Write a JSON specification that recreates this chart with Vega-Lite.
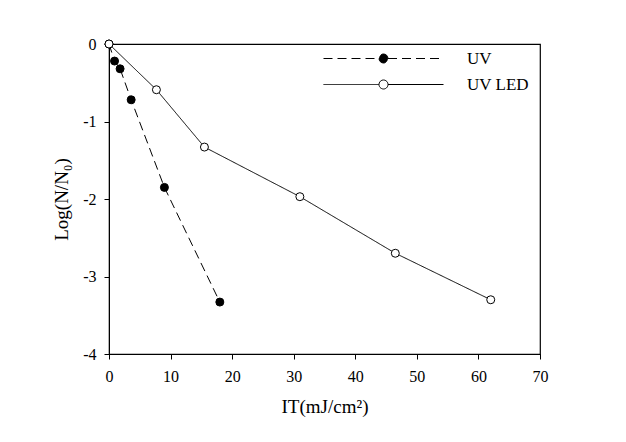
{
  "$schema": "https://vega.github.io/schema/vega-lite/v6.json",
  "width": 431,
  "height": 310,
  "autosize": {"type": "none"},
  "padding": {"left": 109, "top": 44, "right": 86, "bottom": 88},
  "background": "white",
  "config": {
    "font": "Liberation Serif",
    "view": {"stroke": "black", "strokeWidth": 1.2},
    "axis": {
      "grid": false,
      "domainColor": "black",
      "tickColor": "black",
      "labelColor": "black",
      "titleColor": "black",
      "labelFont": "Liberation Serif",
      "titleFont": "Liberation Serif",
      "titleFontWeight": "normal",
      "labelFontSize": 16,
      "titleFontSize": 19,
      "tickSize": 5,
      "labelPadding": 8,
      "labelFlush": false
    }
  },
  "data": {
    "values": [
      {"series": "UV", "it": 0, "logn": 0},
      {"series": "UV", "it": 0.9, "logn": -0.22},
      {"series": "UV", "it": 1.8, "logn": -0.32},
      {"series": "UV", "it": 3.6, "logn": -0.72},
      {"series": "UV", "it": 9, "logn": -1.85},
      {"series": "UV", "it": 18, "logn": -3.33},
      {"series": "UV LED", "it": 0, "logn": 0},
      {"series": "UV LED", "it": 7.7, "logn": -0.59},
      {"series": "UV LED", "it": 15.5, "logn": -1.33},
      {"series": "UV LED", "it": 31, "logn": -1.97},
      {"series": "UV LED", "it": 46.5, "logn": -2.7},
      {"series": "UV LED", "it": 62, "logn": -3.3}
    ]
  },
  "encoding": {
    "x": {
      "field": "it", "type": "quantitative",
      "scale": {"domain": [0, 70], "nice": false},
      "axis": {"values": [0, 10, 20, 30, 40, 50, 60, 70], "title": "IT(mJ/cm²)", "titlePadding": 13, "labelPadding": 9}
    },
    "y": {
      "field": "logn", "type": "quantitative",
      "scale": {"domain": [-4, 0], "nice": false},
      "axis": {"values": [0, -1, -2, -3, -4], "title": "Log(N/N₀)", "titlePadding": 11,
               "labelExpr": "datum.value === 0 ? '0' : '-' + abs(datum.value)"}
    }
  },
  "layer": [
    {
      "mark": {"type": "line", "color": "black", "strokeWidth": 1},
      "encoding": {
        "strokeDash": {
          "field": "series", "type": "nominal",
          "scale": {"domain": ["UV", "UV LED"], "range": [[9, 5], [1, 0]]},
          "legend": {
            "title": null,
            "orient": "none",
            "legendX": 266,
            "legendY": 6,
            "padding": 0,
            "rowPadding": 8,
            "symbolType": "M-10,0H-0.75M0.75,0H10M-0.75,0A0.75,0.75 0 1,0 0.75,0A0.75,0.75 0 1,0 -0.75,0Z",
            "symbolSize": 144,
            "symbolStrokeColor": "black",
            "symbolStrokeWidth": 1,
            "labelOffset": 75,
            "labelFontSize": 17,
            "labelColor": "black",
            "labelFont": "Liberation Serif",
            "encode": {
              "symbols": {
                "update": {
                  "fill": {"signal": "datum.value === 'UV' ? 'black' : 'white'"},
                  "stroke": {"value": "black"},
                  "opacity": {"value": 1}
                }
              }
            }
          }
        }
      }
    },
    {
      "mark": {"type": "point", "shape": "circle", "size": 64, "filled": true, "stroke": "black", "strokeWidth": 1, "opacity": 1},
      "encoding": {
        "fill": {
          "field": "series", "type": "nominal",
          "scale": {"domain": ["UV", "UV LED"], "range": ["black", "white"]},
          "legend": null
        },
        "order": {"field": "series", "sort": "ascending"}
      }
    }
  ]
}
